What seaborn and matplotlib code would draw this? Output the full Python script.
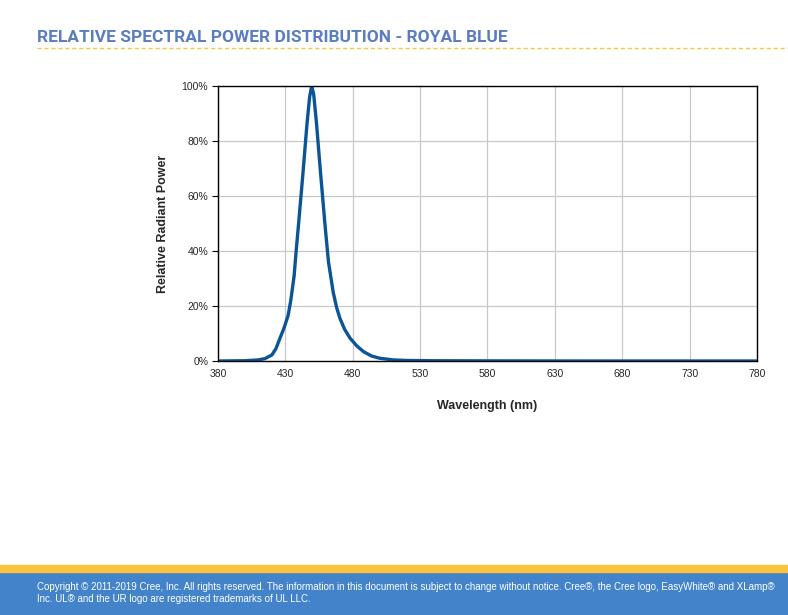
import matplotlib
matplotlib.use("Agg")
import seaborn as sns
import pandas as pd
from matplotlib import pyplot as plt
from matplotlib.ticker import PercentFormatter

wavelength = [380, 400, 410, 415, 420, 423, 426, 429, 432, 434, 436.5, 438, 440, 443,
              446, 448, 449.5, 451, 453, 456, 459.5, 462, 465.5, 468, 470.5, 474,
              478, 483, 488, 494, 500, 510, 520, 540, 580, 650, 780]
power = [0.0, 0.001, 0.004, 0.009, 0.022, 0.045, 0.083, 0.12, 0.165, 0.22, 0.31, 0.40,
         0.51, 0.68, 0.86, 0.96, 1.0, 0.97, 0.87, 0.69, 0.49, 0.36, 0.25, 0.195, 0.155,
         0.115, 0.083, 0.055, 0.034, 0.018, 0.01, 0.004, 0.002, 0.001, 0.0005, 0.0, 0.0]

x_ticks = [380, 430, 480, 530, 580, 630, 680, 730, 780]
y_ticks = [0, 0.2, 0.4, 0.6, 0.8, 1.0]

title = "RELATIVE SPECTRAL POWER DISTRIBUTION - ROYAL BLUE"
footer = ("Copyright \u00a9 2011-2019 Cree, Inc. All rights reserved. The information in this document "
          "is subject to change without notice. Cree\u00ae, the Cree logo, EasyWhite\u00ae and XLamp\u00ae\n"
          "Inc. UL\u00ae and the UR logo are registered trademarks of UL LLC.")

sns.set_style("white")
plt.rcParams["font.family"] = ["Liberation Sans", "DejaVu Sans"]

df = pd.DataFrame({"wavelength": wavelength, "power": power})

fig = plt.figure(figsize=(7.88, 6.15), dpi=100)
ax = fig.add_axes([218 / 788, 1 - 361 / 615, (757 - 218) / 788, (361 - 86) / 615])

sns.lineplot(data=df, x="wavelength", y="power", ax=ax, color="#0b5597", linewidth=2.4)

ax.set_xlim(380, 780)
ax.set_ylim(0, 1.0)
ax.set_xticks(x_ticks)
ax.set_yticks(y_ticks)
ax.yaxis.set_major_formatter(PercentFormatter(1.0, decimals=0))
ax.grid(True, color="#c8c8c8", linewidth=0.9)
ax.set_axisbelow(True)
for s in ax.spines.values():
    s.set_color("black")
    s.set_linewidth(1.0)
ax.tick_params(axis="y", length=4, width=0.8, color="black", labelsize=7.5, pad=3, left=True)
ax.tick_params(axis="x", length=0, labelsize=7.5, pad=6)
ax.set_xlabel("Wavelength (nm)", fontsize=9, fontweight="bold", labelpad=15)
ax.set_ylabel("Relative Radiant Power", fontsize=9, fontweight="bold", labelpad=9)

# page header
fig.text(37 / 788, 1 - 37 / 615, title, fontsize=12.5, fontweight="bold",
         color="#5a7dbf", va="center", ha="left", family=["Roboto", "DejaVu Sans"])
fig.add_artist(plt.Line2D([37 / 788, 1.0], [1 - 48 / 615] * 2, color="#f5c842",
                          linewidth=1.0, linestyle=(0, (3, 2))))

# page footer
fig.add_artist(plt.Rectangle((0, 0), 1, 43 / 615, color="#4283c9", transform=fig.transFigure))
fig.add_artist(plt.Rectangle((0, 43 / 615), 1, 7 / 615, color="#fcc43a", transform=fig.transFigure))
fig.text(37 / 788, 1 - 593 / 615, footer, fontsize=7.0, color="white", va="center", ha="left",
         linespacing=1.25, family=["Liberation Sans Narrow", "Liberation Sans", "DejaVu Sans"])

fig.savefig("out.png", dpi=100)
plt.close(fig)
